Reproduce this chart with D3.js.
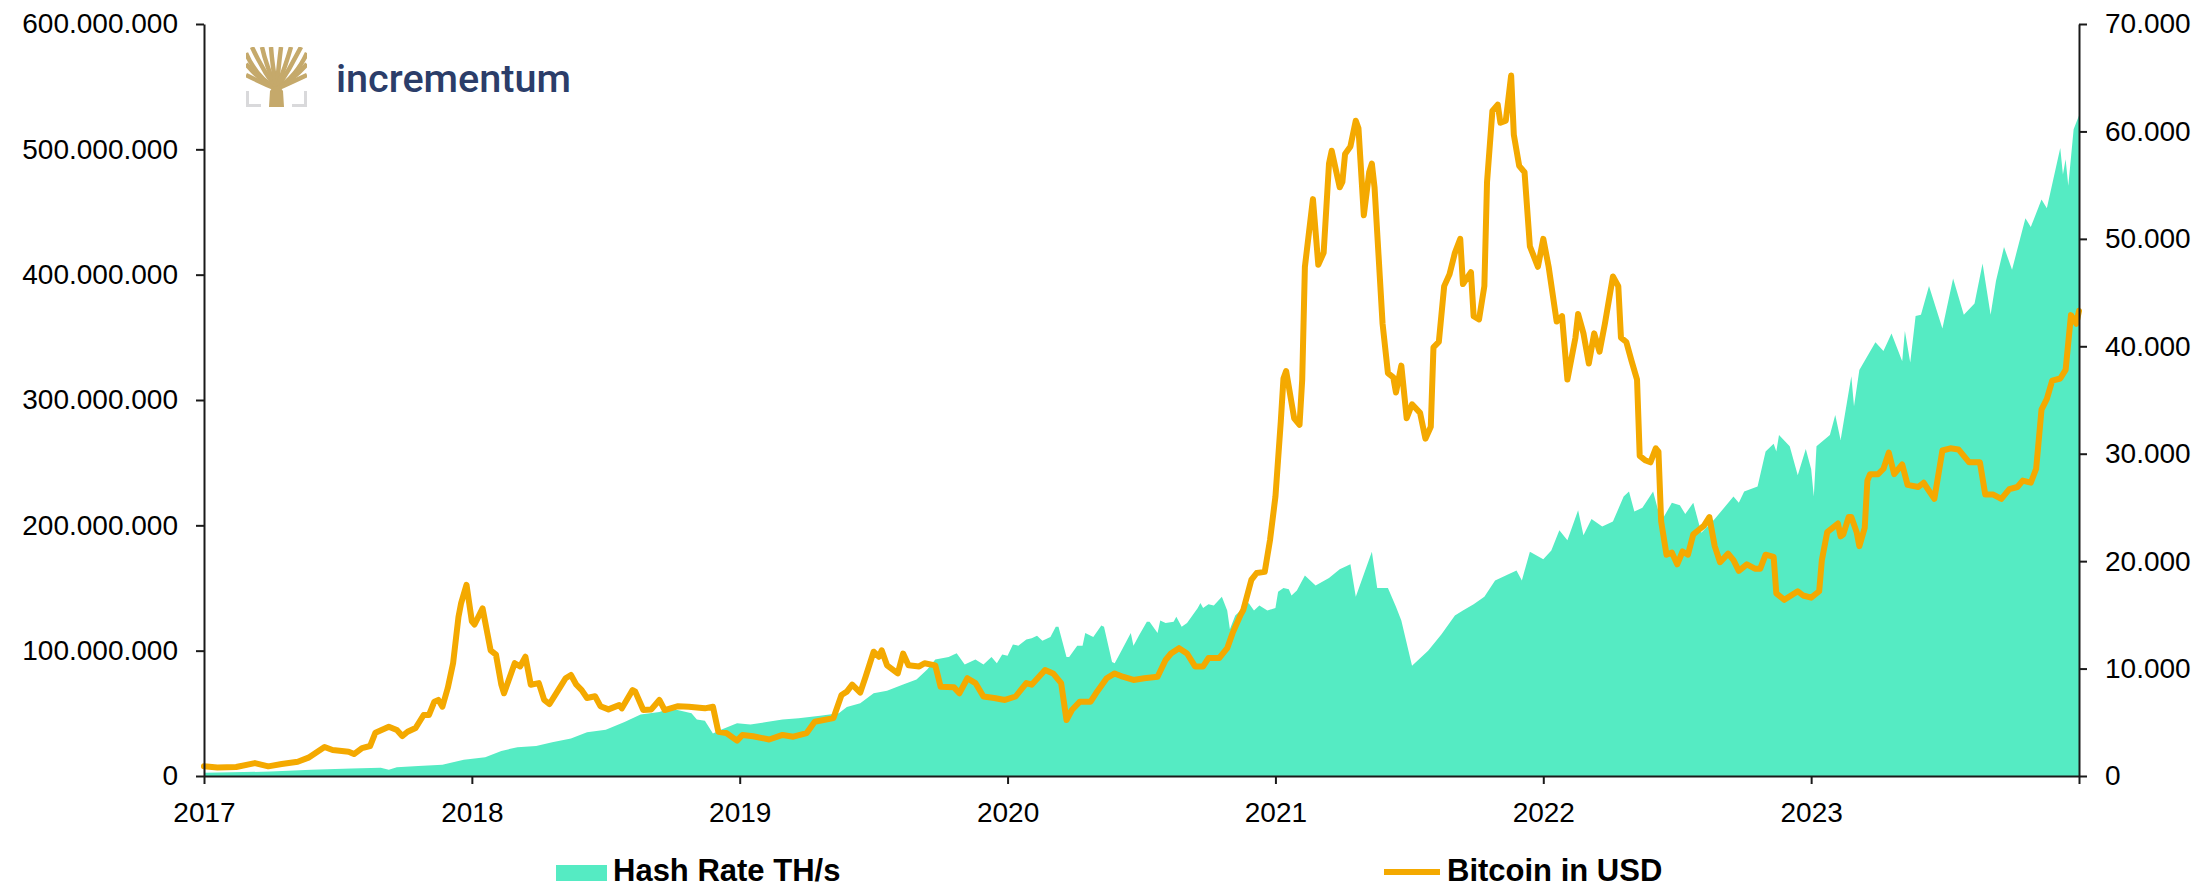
<!DOCTYPE html>
<html>
<head>
<meta charset="utf-8">
<script src="https://cdn.jsdelivr.net/npm/d3@7"></script>
<style>
  body { margin: 0; background: #fff; }
  text { font-family: "Liberation Sans", Arial, sans-serif; }
</style>
</head>
<body>
<div id="chart"></div>
<script>
// hash rate, millions of TH/s (decimal year -> value)
var hashYears = [2017.00,2017.10,2017.25,2017.40,2017.55,2017.66,2017.69,2017.72,2017.80,2017.89,2017.97,
  2018.05,2018.11,2018.17,2018.24,2018.30,2018.37,2018.43,2018.50,2018.57,2018.63,2018.70,2018.74,2018.78,2018.82,2018.84,2018.87,2018.90,2018.93,2018.99,
  2019.04,2019.10,2019.16,2019.22,2019.30,2019.37,2019.40,2019.45,2019.50,2019.55,2019.61,2019.66,2019.70,2019.73,
  2019.78,2019.81,2019.84,2019.88,2019.91,2019.94,2019.96,2019.98,
  2020.00,2020.02,2020.04,2020.07,2020.09,2020.11,2020.13,2020.16,2020.18,2020.19,2020.22,2020.23,2020.26,2020.28,2020.29,2020.32,2020.35,2020.36,2020.39,2020.40,2020.43,2020.46,2020.47,2020.49,
  2020.52,2020.53,2020.56,2020.57,2020.59,2020.62,2020.63,2020.65,2020.67,2020.71,2020.72,2020.73,2020.75,2020.77,2020.80,2020.82,2020.83,2020.85,2020.90,2020.92,2020.94,2020.97,
  2021.00,2021.01,2021.03,2021.05,2021.06,2021.08,2021.11,2021.15,2021.20,2021.24,2021.28,2021.30,2021.33,2021.36,2021.38,2021.42,2021.45,2021.47,2021.51,2021.54,2021.57,2021.62,2021.67,2021.70,2021.74,2021.78,2021.82,2021.86,2021.90,2021.92,2021.95,
  2022.00,2022.03,2022.06,2022.09,2022.13,2022.15,2022.18,2022.22,2022.26,2022.30,2022.32,2022.34,2022.37,2022.41,2022.44,2022.48,2022.51,2022.53,2022.56,2022.59,2022.64,2022.71,2022.73,2022.75,2022.80,2022.83,2022.86,2022.87,2022.88,2022.92,2022.95,2022.98,
  2023.00,2023.01,2023.02,2023.07,2023.09,2023.11,2023.15,2023.16,2023.18,2023.24,2023.27,2023.30,2023.34,2023.35,2023.37,2023.39,2023.41,2023.44,2023.49,2023.53,2023.57,2023.61,2023.64,2023.67,2023.69,2023.72,2023.75,2023.80,2023.82,2023.86,2023.88,2023.93,2023.94,2023.95,2023.96,2023.98,2024.00];
var hashValues = [2.5,3,3.5,5,6,6.5,5,7,8,9,13,
  15,20,23,24,27,30,35,37,43,49,51,54,52,50,45,44,34,37,42,
  41,43,45,46,48,50,55,58,66,68,73,77,85,93,
  95,98,89,93,89,95,90,97,
  96,105,104,109,110,112,108,111,119,119,95,95,104,104,114,111,120,119,91,90,102,114,104,112,
  123,123,114,124,122,123,127,119,122,134,138,134,137,136,143,132,117,128,138,132,136,132,
  134,147,150,149,144,148,160,152,158,165,169,143,161,179,150,150,135,124,88,94,100,113,128,132,137,143,156,160,164,156,179,
  173,180,196,188,212,192,205,199,203,223,227,211,214,227,203,218,216,209,218,194,205,223,218,227,231,259,265,259,272,263,240,261,
  245,223,263,272,288,268,319,295,324,346,339,353,331,355,330,367,368,391,357,397,368,377,409,368,395,422,404,445,438,460,453,501,480,492,471,516,527];

// bitcoin price in USD
var priceYears = [2017.00,2017.05,2017.12,2017.19,2017.24,2017.29,2017.35,2017.39,2017.45,2017.48,2017.54,2017.56,2017.59,2017.62,2017.64,2017.69,2017.72,2017.74,2017.76,2017.79,2017.82,2017.84,2017.86,2017.875,2017.89,2017.91,2017.93,2017.95,2017.96,2017.98,
  2018.00,2018.01,2018.04,2018.07,2018.09,2018.11,2018.12,2018.16,2018.18,2018.20,2018.22,2018.25,2018.27,2018.29,2018.33,2018.35,2018.37,2018.39,2018.41,2018.43,2018.46,2018.48,2018.51,2018.55,2018.56,2018.60,2018.61,2018.64,2018.67,2018.70,2018.72,2018.77,2018.81,2018.87,2018.90,2018.92,2018.95,2018.99,
  2019.01,2019.05,2019.11,2019.16,2019.20,2019.25,2019.28,2019.35,2019.38,2019.40,2019.42,2019.45,2019.47,2019.50,2019.52,2019.53,2019.55,2019.59,2019.61,2019.63,2019.67,2019.69,2019.73,2019.75,2019.80,2019.82,2019.85,2019.88,2019.91,2019.95,2019.99,
  2020.03,2020.07,2020.09,2020.14,2020.17,2020.20,2020.22,2020.24,2020.27,2020.31,2020.33,2020.37,2020.40,2020.43,2020.47,2020.51,2020.56,2020.59,2020.61,2020.64,2020.67,2020.70,2020.73,2020.75,2020.79,2020.82,2020.84,2020.87,2020.88,2020.91,2020.93,2020.96,2020.98,
  2021.00,2021.02,2021.03,2021.04,2021.07,2021.09,2021.10,2021.11,2021.14,2021.16,2021.18,2021.20,2021.21,2021.24,2021.25,2021.26,2021.28,2021.30,2021.31,2021.33,2021.35,2021.36,2021.37,2021.40,2021.42,2021.44,2021.45,2021.47,2021.49,2021.51,2021.54,2021.56,2021.58,2021.59,2021.61,2021.63,2021.65,2021.67,2021.69,2021.70,2021.73,2021.74,2021.76,2021.78,2021.79,2021.81,2021.83,2021.84,2021.86,2021.88,2021.89,2021.91,2021.93,2021.95,2021.98,
  2022.00,2022.02,2022.05,2022.07,2022.09,2022.12,2022.13,2022.15,2022.17,2022.19,2022.21,2022.23,2022.26,2022.28,2022.29,2022.31,2022.33,2022.35,2022.36,2022.38,2022.40,2022.42,2022.43,2022.44,2022.46,2022.48,2022.50,2022.52,2022.54,2022.56,2022.58,2022.60,2022.62,2022.64,2022.66,2022.69,2022.71,2022.73,2022.76,2022.79,2022.81,2022.83,2022.86,2022.87,2022.90,2022.95,2022.97,
  2023.00,2023.03,2023.04,2023.06,2023.08,2023.10,2023.11,2023.12,2023.14,2023.15,2023.17,2023.18,2023.20,2023.21,2023.22,2023.25,2023.27,2023.29,2023.31,2023.34,2023.36,2023.40,2023.42,2023.46,2023.49,2023.52,2023.55,2023.59,2023.63,2023.65,2023.68,2023.71,2023.74,2023.77,2023.79,2023.82,2023.84,2023.86,2023.88,2023.90,2023.93,2023.95,2023.97,2023.99,2024.00];
var priceValues = [900,800,840,1200,900,1120,1330,1710,2700,2420,2260,2040,2600,2790,4030,4590,4280,3720,4120,4470,5680,5680,6920,7080,6450,8190,10500,14800,16100,17800,
  14400,14100,15600,11700,11300,8500,7700,10500,10200,11100,8500,8650,7080,6700,8300,9100,9400,8500,8000,7260,7420,6500,6200,6600,6300,8000,7850,6140,6200,7080,6140,6500,6450,6300,6450,4120,4000,3290,
  3820,3700,3400,3820,3660,4000,5050,5390,7540,7850,8500,7760,9240,11570,11100,11700,10300,9550,11400,10300,10200,10500,10300,8300,8250,7700,9100,8650,7400,7260,7080,
  7400,8650,8500,9870,9550,8650,5210,6140,6920,6920,7700,9100,9550,9240,8940,9100,9240,10800,11400,11900,11400,10200,10200,10980,10980,11900,13300,15000,15450,18250,18900,19000,22000,
  26000,33000,37000,37700,33300,32700,36900,47400,53700,47600,48700,57000,58200,54800,55300,57900,58600,61000,60300,52200,56200,57000,54800,42100,37500,37100,35700,38200,33300,34600,33800,31400,32500,39900,40400,45600,46700,48700,50000,45800,46900,42800,42500,45600,55300,61900,62500,60800,61000,65200,59700,56800,56200,49300,47400,
  50000,47400,42300,42800,36900,40800,43000,41200,38400,41200,39500,42100,46500,45600,40800,40400,38600,36900,29800,29400,29200,30500,30200,23700,20600,20800,19700,20900,20600,22500,22900,23300,24100,21400,19900,20700,20100,19100,19700,19300,19300,20600,20400,17000,16400,17200,16800,
  16600,17200,20100,22700,23100,23500,22300,22500,24100,24100,22700,21400,23100,27500,28100,28100,28600,30100,28100,29000,27100,26900,27300,25800,30300,30500,30400,29200,29200,26200,26200,25800,26700,26900,27500,27300,28600,34100,35100,36800,37000,37800,42900,42100,43300];

var yearTicks = [2017, 2018, 2019, 2020, 2021, 2022, 2023, 2024];
var hashTicks = [0, 100, 200, 300, 400, 500, 600];
var priceTicks = [0, 10000, 20000, 30000, 40000, 50000, 60000, 70000];
var seriesNames = ["Hash Rate TH/s", "Bitcoin in USD"];

var W = 2203, H = 887;
var margin = {top: 24, right: 124, bottom: 111, left: 204};
var w = W - margin.left - margin.right;
var h = H - margin.top - margin.bottom;

var teal = "#55EBC3", orange = "#F4A900";

var de = d3.formatLocale({decimal: ",", thousands: ".", grouping: [3], currency: ["", ""]});
var fmt = de.format(",");

var x = d3.scaleLinear().domain([2017, 2024]).range([0, w]);
var yL = d3.scaleLinear().domain([0, 600]).range([h, 0]);
var yR = d3.scaleLinear().domain([0, 70000]).range([h, 0]);

var svg = d3.select("#chart").append("svg")
  .attr("width", W)
  .attr("height", H);

var g = svg.append("g")
  .attr("transform", "translate(" + margin.left + "," + margin.top + ")");

var hashData = hashYears.map(function(t, i){ return {t: t, v: hashValues[i]}; });
var priceData = priceYears.map(function(t, i){ return {t: t, v: priceValues[i]}; });

var area = d3.area()
  .x(function(d){ return x(d.t); })
  .y0(h)
  .y1(function(d){ return yL(d.v); });

var line = d3.line()
  .x(function(d){ return x(d.t); })
  .y(function(d){ return yR(d.v); });

g.append("path")
  .datum(hashData)
  .attr("d", area)
  .attr("fill", teal);

g.append("path")
  .datum(priceData)
  .attr("d", line)
  .attr("fill", "none")
  .attr("stroke", orange)
  .attr("stroke-width", 6)
  .attr("stroke-linejoin", "round")
  .attr("stroke-linecap", "round");

// axes
var xAxis = d3.axisBottom(x)
  .tickValues(yearTicks)
  .tickFormat(function(d){ return d < 2024 ? d : ""; })
  .tickSize(8)
  .tickSizeOuter(0)
  .tickPadding(18);

var yAxisL = d3.axisLeft(yL)
  .tickValues(hashTicks)
  .tickFormat(function(d){ return fmt(d * 1e6); })
  .tickSize(8)
  .tickSizeOuter(0)
  .tickPadding(18);

var yAxisR = d3.axisRight(yR)
  .tickValues(priceTicks)
  .tickFormat(fmt)
  .tickSize(8)
  .tickSizeOuter(0)
  .tickPadding(18);

function styleAxis(sel){
  sel.selectAll("path.domain").attr("stroke", "#1a1a1a").attr("stroke-width", 2);
  sel.selectAll(".tick line").attr("stroke", "#1a1a1a").attr("stroke-width", 2);
  sel.selectAll(".tick text")
    .attr("fill", "#000")
    .style("font-size", "28px")
    .style("font-family", "'Liberation Sans', Arial, sans-serif");
}

g.append("g").attr("transform", "translate(0," + h + ")").call(xAxis).call(styleAxis);
g.append("g").call(yAxisL).call(styleAxis);
g.append("g").attr("transform", "translate(" + w + ",0)").call(yAxisR).call(styleAxis);

// legend
var leg = svg.append("g");
leg.append("rect")
  .attr("x", 556).attr("y", 865).attr("width", 51).attr("height", 16)
  .attr("fill", teal);
leg.append("text")
  .attr("x", 613).attr("y", 881)
  .style("font-size", "31px").style("font-weight", "bold")
  .text(seriesNames[0]);
leg.append("line")
  .attr("x1", 1384).attr("x2", 1440).attr("y1", 872).attr("y2", 872)
  .attr("stroke", orange).attr("stroke-width", 6);
leg.append("text")
  .attr("x", 1447).attr("y", 881)
  .style("font-size", "31px").style("font-weight", "bold")
  .text(seriesNames[1]);

// logo
var logo = svg.append("g").attr("transform", "translate(246,47)");
var gold = "#C5A96B", grey = "#D9D9DB";
logo.append("clipPath").attr("id", "treeclip")
  .append("rect").attr("x", 0).attr("y", 0).attr("width", 61).attr("height", 60);
var tree = logo.append("g").attr("clip-path", "url(#treeclip)");
var branches = [
  [0, 6, 10, 30], [0, 17, 12, 32], [0, 28, 16, 36],
  [6, 0, 16, 22], [16, 0, 20, 18], [25, 0, 26, 16], [35, 0, 33, 16], [45, 0, 40, 18], [55, 0, 44, 22],
  [61, 6, 50, 30], [61, 17, 48, 32], [61, 28, 44, 36]
];
branches.forEach(function(b){
  tree.append("path")
    .attr("d", "M" + b[0] + "," + b[1] + " Q" + b[2] + "," + b[3] + " 30.5,42")
    .attr("fill", "none")
    .attr("stroke", gold)
    .attr("stroke-width", 4.5);
});
tree.append("path")
  .attr("d", "M23,60 L24,44 Q30.5,34 37,44 L38,60 Z")
  .attr("fill", gold);
logo.append("path")
  .attr("d", "M1.5,44 L1.5,58.5 L15,58.5")
  .attr("fill", "none").attr("stroke", grey).attr("stroke-width", 3);
logo.append("path")
  .attr("d", "M46,58.5 L59.5,58.5 L59.5,44")
  .attr("fill", "none").attr("stroke", grey).attr("stroke-width", 3);

svg.append("text")
  .attr("x", 336).attr("y", 92)
  .attr("textLength", 235)
  .attr("lengthAdjust", "spacingAndGlyphs")
  .style("font-family", "Roboto, 'Liberation Sans', sans-serif")
  .style("font-weight", 500)
  .style("font-size", "38px")
  .attr("fill", "#2B3D69")
  .text("incrementum");
</script>
</body>
</html>
